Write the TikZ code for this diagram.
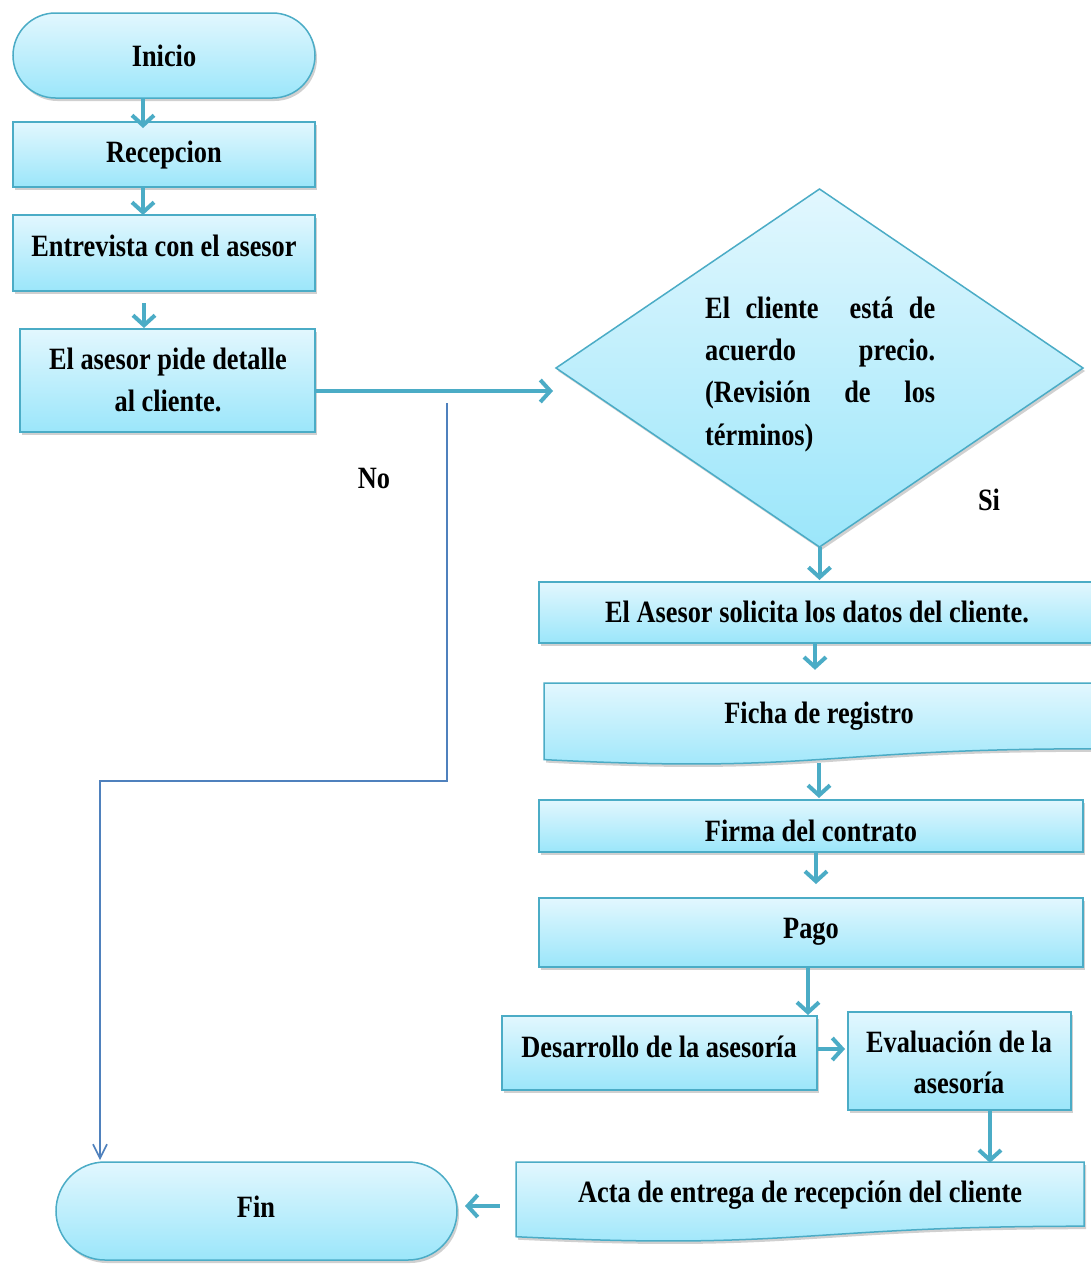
\documentclass[tikz,border=0pt]{standalone}
\usepackage{fontspec}
\setmainfont{Liberation Serif}[FakeStretch=0.85]
\usetikzlibrary{shapes.geometric,arrows.meta,shadows}
\definecolor{accent}{RGB}{75,172,198}
\definecolor{topc}{RGB}{226,247,254}
\definecolor{botc}{RGB}{155,230,250}
\definecolor{noline}{RGB}{79,129,189}
\begin{document}
\begin{tikzpicture}[x=1pt,y=-1pt,
  shp/.style={draw=accent, line width=1.5pt, top color=topc, bottom color=botc,
    drop shadow={shadow xshift=2pt, shadow yshift=-3pt, opacity=0.3, fill=black!60},
    inner sep=0pt, outer sep=0pt},
  blk/.style={shp, rectangle},
  term/.style={shp, rectangle, rounded corners=#1},
  txt/.style={font=\bfseries\fontsize{31}{38}\selectfont, anchor=base, inner sep=0pt},
  flow/.style={draw=accent, line width=4pt, -{Straight Barb[length=10pt,width=22pt]}},
  nol/.style={draw=noline, line width=1.6pt, -{Straight Barb[length=14pt,width=14pt]}}]
\useasboundingbox (0,0) rectangle (1091,1264);
\clip (0,0) rectangle (1091,1264);
\fill[white] (0,0) rectangle (1091,1264);

% shapes
\node[term=42.5pt, minimum width=302pt, minimum height=85pt] (inicio) at (164,55.5) {};
\node[blk, minimum width=302pt, minimum height=65pt] (recep) at (164,154.5) {};
\node[blk, minimum width=302pt, minimum height=76pt] (entre) at (164,253) {};
\node[blk, minimum width=295pt, minimum height=103pt] (asesor) at (167.5,380.5) {};
\node[shp, diamond, minimum width=527pt, minimum height=358pt] (dec) at (819.5,368) {};
\node[blk, minimum width=556pt, minimum height=61pt] (solicit) at (817,612.5) {};
\path[shp] (544,683) -- (1094,683) -- (1094,748.8) .. controls (819,748.8) and (819,773.8) .. (544,759.6) -- cycle;
\node[rectangle, minimum width=550pt, minimum height=77pt, inner sep=0pt] (ficha) at (819,721.5) {};
\node[blk, minimum width=544pt, minimum height=52pt] (firma) at (811,826) {};
\node[blk, minimum width=544pt, minimum height=69pt] (pago) at (811,932.5) {};
\node[blk, minimum width=315pt, minimum height=74pt] (desa) at (659.5,1053) {};
\node[blk, minimum width=223pt, minimum height=98pt] (eval) at (959.5,1061) {};
\path[shp] (516,1162) -- (1084,1162) -- (1084,1226.2) .. controls (800,1226.2) and (800,1250.6) .. (516,1236.7) -- cycle;
\node[rectangle, minimum width=568pt, minimum height=75pt, inner sep=0pt] (acta) at (800,1199.5) {};
\node[term=49pt, minimum width=401pt, minimum height=98pt] (fin) at (256.5,1211) {};

% texts
\node[txt] (t-inicio) at (164,66) {Inicio};
\node[txt] (t-recep) at (164,162) {Recepcion};
\node[txt] (t-entre) at (164,256) {Entrevista con el asesor};
\node[txt] (t-asesor1) at (168,369) {El asesor pide detalle};
\node[txt] (t-asesor2) at (168,411) {al cliente.};
\node[txt, anchor=base west] (t-dec1) at (705,318) {\hbox to 230pt{El\hfill cliente\hfill\hfill está\hfill de}};
\node[txt, anchor=base west] (t-dec2) at (705,360) {\hbox to 230pt{acuerdo\hfill precio.}};
\node[txt, anchor=base west] (t-dec3) at (705,402) {\hbox to 230pt{(Revisión\hfill de\hfill los}};
\node[txt, anchor=base west] (t-dec4) at (705,445) {términos)};
\node[txt] (t-no) at (374,488) {No};
\node[txt] (t-si) at (989,510) {Si};
\node[txt] (t-solicit) at (817,622) {El Asesor solicita los datos del cliente.};
\node[txt] (t-ficha) at (819,723) {Ficha de registro};
\node[txt] (t-firma) at (811,841) {Firma del contrato};
\node[txt] (t-pago) at (811,938) {Pago};
\node[txt] (t-desa) at (659,1057) {Desarrollo de la asesoría};
\node[txt] (t-eval1) at (959,1052) {Evaluación de la};
\node[txt] (t-eval2) at (959,1093) {asesoría};
\node[txt] (t-acta) at (800,1202) {Acta de entrega de recepción del cliente};
\node[txt] (t-fin) at (256,1217) {Fin};

% connectors
\draw[flow] ([xshift=-21pt]inicio.south) coordinate (a1) -- ([yshift=-6pt]a1 |- recep.north);
\draw[flow] ([xshift=-21pt]recep.south) coordinate (a2) -- (a2 |- entre.north);
\draw[flow] ([xshift=-20pt,yshift=-12pt]entre.south) coordinate (a3) -- ([yshift=1pt]a3 |- asesor.north);
\draw[flow] ([yshift=-10.5pt]asesor.east) -- ([xshift=-3pt,yshift=-23pt]dec.west);
\draw[flow] (dec.south) coordinate (a5) -- ([yshift=2pt]a5 |- solicit.north);
\draw[flow] ([xshift=-2pt]solicit.south) coordinate (a6) -- ([yshift=13pt]a6 |- ficha.north);
\draw[flow] ([yshift=-3pt]ficha.south) coordinate (a7) -- ([yshift=2pt]a7 |- firma.north);
\draw[flow] ([xshift=5pt]firma.south) coordinate (a8) -- ([yshift=14pt]a8 |- pago.north);
\draw[flow] ([xshift=-3pt]pago.south) coordinate (a9) -- ([yshift=1pt]a9 |- desa.north);
\draw[flow] ([yshift=4pt]desa.east) coordinate (a10) -- ([xshift=-3pt]a10 -| eval.west);
\draw[flow] ([xshift=30.5pt]eval.south) coordinate (a11) -- ([yshift=-1pt]a11 |- acta.north);
\draw[flow] ([xshift=-16pt,yshift=-6.5pt]acta.west) coordinate (a12) -- ([xshift=8pt]a12 -| fin.east);
\coordinate (n0) at (447,403);
\coordinate (n1) at (100,781);
\draw[nol] (n0) |- (n1) -- ([xshift=44pt,yshift=2pt]fin.north west);
\end{tikzpicture}
\end{document}
